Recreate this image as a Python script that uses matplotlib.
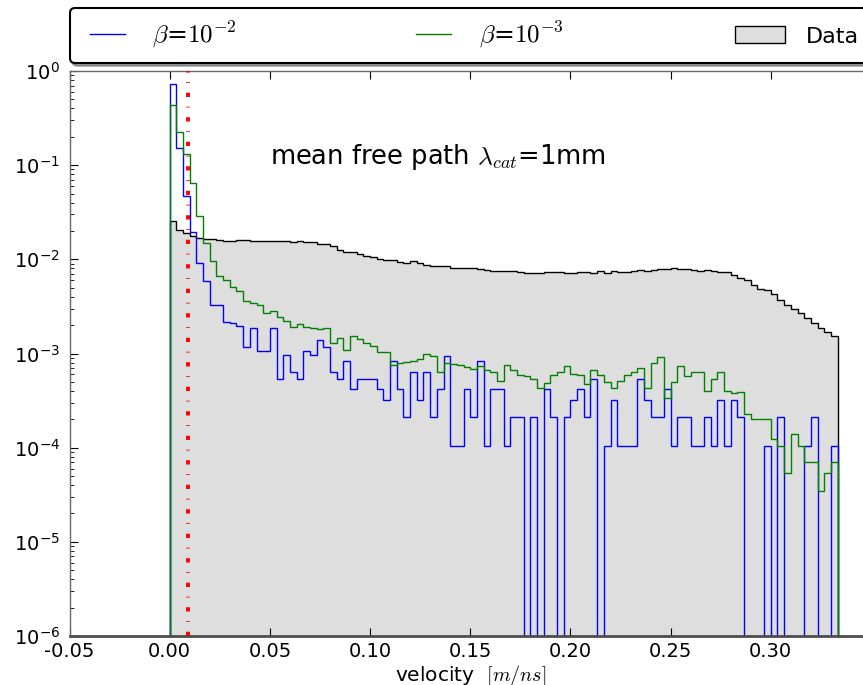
import numpy as np
import matplotlib
matplotlib.use("Agg")
import matplotlib.pyplot as plt
from matplotlib.lines import Line2D
from matplotlib.patches import Patch
from matplotlib.ticker import LogLocator, FormatStrFormatter, NullFormatter

# 100 velocity bins between 0 and 1/3 m/ns
edges = np.linspace(0.0, 1.0 / 3.0, 101)

# normalised velocity histograms
beta_1e2 = [
    0.73, 0.151, 0.047, 0.0197, 0.0092, 0.0059, 0.00328, 0.0033, 0.00218, 0.0021,
    0.00196, 0.00118, 0.00185, 0.00107, 0.00107, 0.00185, 0.00054, 0.00096, 0.00064, 0.00054,
    0.00107, 0.00096, 0.00139, 0.00118, 0.00064, 0.00054, 0.00084, 0.00042, 0.00053, 0.00053,
    0.00053, 0.00042, 0.00032, 0.00084, 0.00042, 0.00021, 0.00063, 0.00032, 0.00063, 0.00021,
    0.00042, 0.00095, 0.000105, 0.000105, 0.00042, 0.00021, 0.00084, 0.000105, 0.00042, 0.00042,
    0.000105, 0.00021, 0.00021, 0.0, 0.00021, 0.0, 0.00042, 0.00021, 0.0, 0.00021,
    0.00032, 0.00042, 0.00021, 0.00053, 0.0, 0.000105, 0.00032, 0.000105, 0.000105, 0.000105,
    0.00053, 0.00032, 0.00021, 0.00021, 0.00042, 0.000105, 0.00021, 0.00021, 0.000105, 0.000105,
    0.00021, 0.000105, 0.00032, 0.000105, 0.00032, 0.00021, 0.0, 0.0, 0.0, 0.000105,
    0.0, 0.00021, 0.0, 0.0, 0.0, 0.000105, 0.00021, 0.0, 0.0, 0.000105,
]
beta_1e3 = [
    0.435, 0.227, 0.13, 0.064, 0.0289, 0.015, 0.0095, 0.00667, 0.00604, 0.00506,
    0.00466, 0.00365, 0.00342, 0.00328, 0.00272, 0.00283, 0.00243, 0.00224, 0.00193, 0.00206,
    0.00193, 0.00185, 0.00181, 0.00185, 0.0013, 0.00145, 0.00109, 0.00154, 0.00142, 0.00129,
    0.00119, 0.00105, 0.00105, 0.00076, 0.00079, 0.00082, 0.00083, 0.00087, 0.00098, 0.00093,
    0.00063, 0.00079, 0.00078, 0.00075, 0.00072, 0.00069, 0.00073, 0.00066, 0.00064, 0.00051,
    0.00075, 0.00067, 0.00059, 0.00057, 0.00053, 0.00043, 0.00049, 0.00059, 0.00063, 0.00073,
    0.00061, 0.00059, 0.00048, 0.00067, 0.00059, 0.0005, 0.00043, 0.00051, 0.00059, 0.00064,
    0.0007, 0.00043, 0.00079, 0.00091, 0.00034, 0.0005, 0.00074, 0.00058, 0.00063, 0.00063,
    0.0004, 0.00054, 0.00063, 0.0004, 0.00038, 0.00039, 0.00023, 0.0002, 0.0002, 0.0002,
    0.000124, 0.000105, 0.000054, 0.000139, 0.000105, 0.00007, 0.00007, 0.000035, 0.000054, 0.00007,
]
data = [
    0.0256, 0.0205, 0.0192, 0.0177, 0.0170, 0.0163, 0.0163, 0.0160, 0.0157, 0.0157,
    0.0160, 0.0160, 0.0157, 0.0157, 0.0157, 0.0157, 0.0157, 0.0157, 0.0151, 0.0157,
    0.0151, 0.0151, 0.0147, 0.0145, 0.0137, 0.0126, 0.0121, 0.0119, 0.0114, 0.0109,
    0.0106, 0.0100, 0.0099, 0.0099, 0.0094, 0.0091, 0.0095, 0.0091, 0.0088, 0.0086,
    0.0085, 0.0084, 0.0081, 0.0080, 0.0080, 0.0080, 0.0078, 0.0077, 0.0076, 0.0075,
    0.0075, 0.0075, 0.0074, 0.0072, 0.0071, 0.0072, 0.0074, 0.0074, 0.0073, 0.0071,
    0.0071, 0.0074, 0.0074, 0.0071, 0.0075, 0.0072, 0.0075, 0.0074, 0.0074, 0.0075,
    0.0077, 0.0075, 0.0077, 0.0078, 0.0079, 0.0080, 0.0079, 0.0079, 0.0077, 0.0076,
    0.0077, 0.0076, 0.0074, 0.0073, 0.0068, 0.0063, 0.0060, 0.0054, 0.0049, 0.0047,
    0.0043, 0.0037, 0.0033, 0.0030, 0.0027, 0.0024, 0.0021, 0.00186, 0.00171, 0.00154,
]
labels = [r"$\beta$=$10^{-2}$", r"$\beta$=$10^{-3}$", "Data"]
xticks = [-0.05, 0.0, 0.05, 0.10, 0.15, 0.20, 0.25, 0.30]
cut_velocity = 0.009

fig = plt.figure(figsize=(8.63, 6.85), dpi=100)
ax = fig.add_axes([69.5 / 863, 49 / 685, 801.5 / 863, 565 / 685])

ax.stairs(data, edges, baseline=0, fill=True, facecolor="#dedede",
          edgecolor="k", linewidth=1.0, zorder=1)
ax.stairs(beta_1e2, edges, baseline=0, color="b", linewidth=1.0, zorder=2)
ax.stairs(beta_1e3, edges, baseline=0, color="g", linewidth=1.0, zorder=2)
ax.axvline(cut_velocity, color="r", linewidth=2.8,
           linestyle=(0, (1.1, 2.5, 0.2, 2.5)), zorder=3)

ax.set_yscale("log")
ax.set_xlim(-0.05, 0.35)
ax.set_ylim(1e-6, 1.0)
ax.set_xticks(xticks)
ax.xaxis.set_major_formatter(FormatStrFormatter("%.2f"))
ax.yaxis.set_minor_locator(LogLocator(base=10, subs=np.arange(2, 10)))
ax.yaxis.set_minor_formatter(NullFormatter())
ax.tick_params(which="both", direction="in", top=True, right=True, labelsize=14)
ax.tick_params(which="major", length=6)
ax.tick_params(which="minor", length=3)
ax.tick_params(axis="x", pad=4)
ax.tick_params(axis="y", pad=7)

for side in ("top", "left", "right"):
    ax.spines[side].set_color("0.4")
    ax.spines[side].set_linewidth(1.0)
ax.spines["bottom"].set_color("0.3")
ax.spines["bottom"].set_linewidth(2.0)

ax.text(0.25, 0.848, r"mean free path $\lambda_{cat}$=1mm", transform=ax.transAxes,
        fontsize=18.5, va="center", ha="left", math_fontfamily="cm")

xl = ax.set_xlabel(r"velocity  $[m/ns]$", fontsize=14.5, labelpad=2)
xl.set_math_fontfamily("cm")

handles = [Line2D([], [], color="b", linewidth=1.0),
           Line2D([], [], color="g", linewidth=1.0),
           Patch(facecolor="#dedede", edgecolor="k")]
leg = ax.legend(handles, labels, loc="lower left",
                bbox_to_anchor=(0.0, 1.0142, 1.0, 0.09), mode="expand", ncol=3,
                borderaxespad=0.0, fancybox=True, shadow=True, numpoints=2,
                handlelength=2.0, handletextpad=0.8, borderpad=0.5, fontsize=18)
for t in leg.get_texts():
    t.set_math_fontfamily("cm")
leg.get_texts()[2].set_fontsize(16)
leg.get_frame().set_edgecolor("k")
leg.get_frame().set_linewidth(1.5)

fig.savefig("out.png", dpi=100)
